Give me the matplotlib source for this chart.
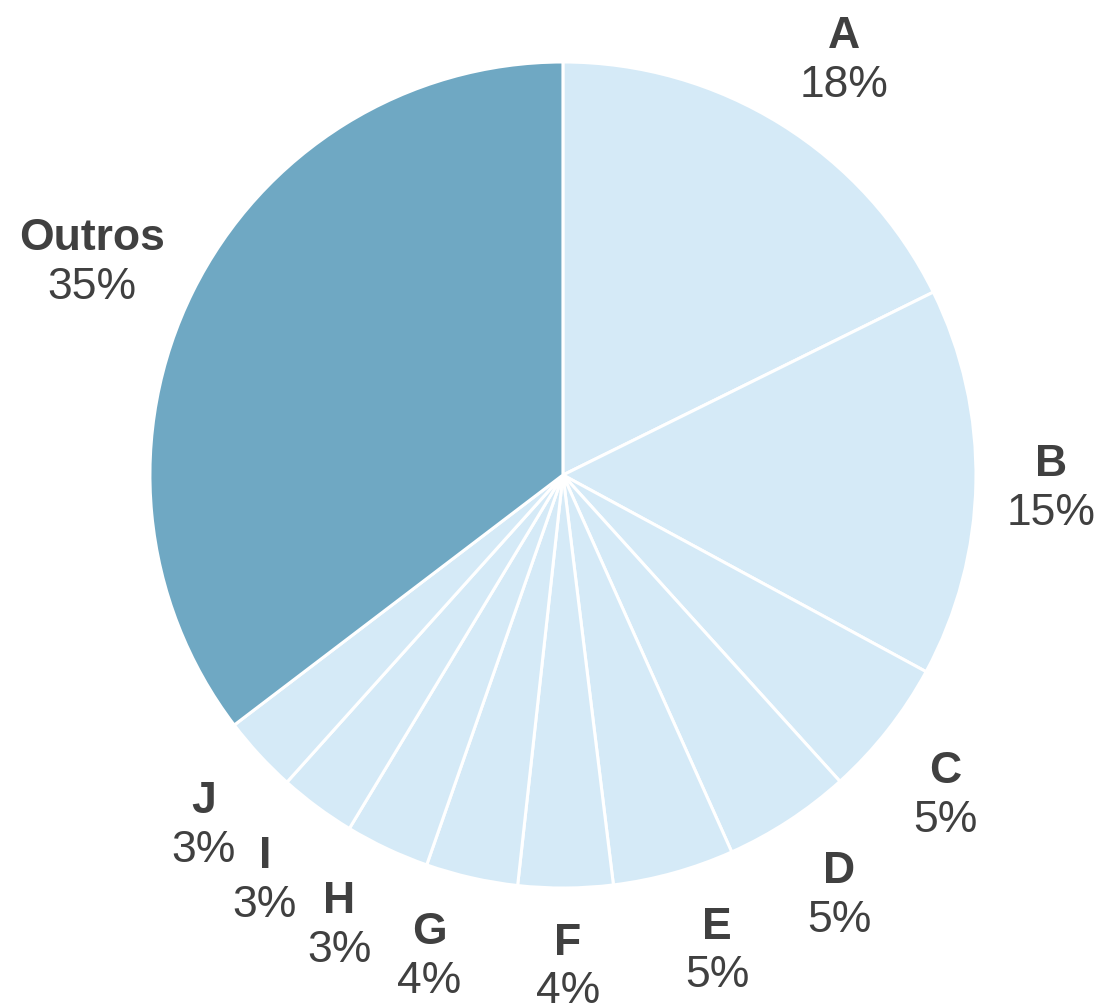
import numpy as np
import matplotlib.pyplot as plt

plt.rcParams['font.family'] = ['Liberation Sans', 'DejaVu Sans']

# data
labels = ["A", "B", "C", "D", "E", "F", "G", "H", "I", "J", "Outros"]
values = [17.7, 15.2, 5.4, 5.0, 4.75, 3.7, 3.6, 3.3, 3.0, 3.0, 35.35]
pct_text = ["18%", "15%", "5%", "5%", "5%", "4%", "4%", "3%", "3%", "3%", "35%"]

light = "#d5eaf7"
dark = "#6fa8c3"
colors = [light] * 10 + [dark]
txt = "#404040"

fig = plt.figure(figsize=(11.04, 10.07), dpi=100)
ax = fig.add_axes([0, 0, 1, 1])

wedges, _ = ax.pie(values, colors=colors, startangle=90, counterclock=False,
                   radius=1, wedgeprops=dict(edgecolor="white", linewidth=2.2))

ax.set_xlim(-1.363, 1.310)
ax.set_ylim(-1.288, 1.150)
ax.set_aspect("equal")
ax.axis("off")

fig.canvas.draw()
rend = fig.canvas.get_renderer()
ppu = ax.transData.transform((1, 0))[0] - ax.transData.transform((0, 0))[0]

# labels: box corner touches a circle just outside the pie
r0 = 1.065
dy = 0.059
pad_x = 4 / ppu
pad_y = 6 / ppu
for w, name, pct in zip(wedges, labels, pct_text):
    ang = np.deg2rad((w.theta1 + w.theta2) / 2)
    c, s = np.cos(ang), np.sin(ang)
    t1 = ax.text(0, 0, name, ha="center", va="center", fontsize=32,
                 fontweight="bold", color=txt)
    t2 = ax.text(0, 0, pct, ha="center", va="center", fontsize=32, color=txt)
    b1 = t1.get_window_extent(rend)
    b2 = t2.get_window_extent(rend)
    hw = max(b1.width, b2.width) / 2 / ppu + pad_x
    hh = dy + (b1.height + b2.height) / 4 / ppu * 0.8 + pad_y
    gx = np.sign(c) * np.clip(abs(c) / 0.1, 0, 1)
    gy = np.sign(s) * np.clip((abs(s) - 0.25) / 0.4, 0, 1)
    x = r0 * c + hw * gx
    y = r0 * s + hh * gy - pad_y
    t1.set_position((x, y + dy))
    t2.set_position((x, y - dy))

fig.savefig("out.png", dpi=100)
